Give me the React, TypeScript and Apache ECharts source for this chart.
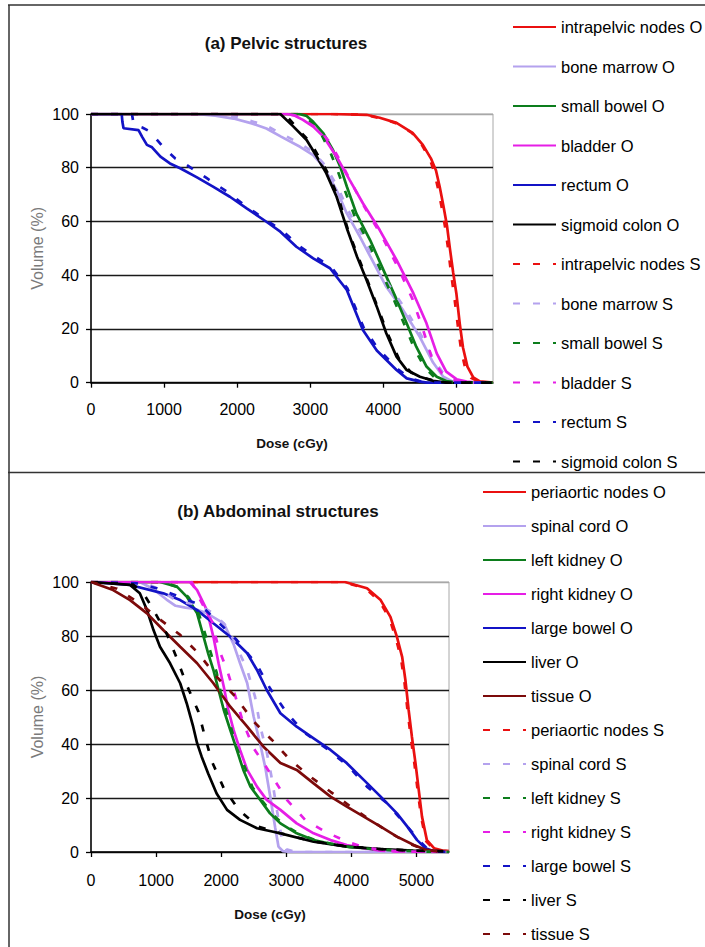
import React, { useEffect, useRef } from "react";
import * as echarts from "echarts";

type Pt = [number, number];

// ---------- axis ticks ----------
const doseTicks = [0, 1000, 2000, 3000, 4000, 5000];
const doseMax = 5500;
const volumeTicks = [0, 20, 40, 60, 80, 100];

// ---------- (a) Pelvic structures ----------
const intrapelvicNodesO: Pt[] = [[0,100],[3300,100],[3770,99.7],[3950,98.6],[4180,96.7],[4400,93],[4540,88.5],[4650,83.5],[4720,79],[4770,73],[4820,66],[4870,58.5],[4910,50],[4955,41],[5000,33],[5045,22],[5090,13],[5150,6],[5230,2],[5320,0.5],[5500,0]];
const boneMarrowO: Pt[] = [[0,100],[1430,100],[1700,99.4],[1950,98.3],[2200,96.5],[2400,94.6],[2600,91.6],[2860,87.8],[3040,84.7],[3180,80.4],[3360,71.7],[3500,63],[3680,54.3],[3820,47],[4040,35.7],[4270,27],[4500,17],[4680,7.5],[4820,2.2],[4950,0.4],[5100,0],[5500,0]];
const smallBowelO: Pt[] = [[0,100],[2850,100],[2950,99.3],[3040,97.1],[3180,92.8],[3310,86.6],[3410,80.4],[3500,73],[3630,63],[3820,53],[4000,42],[4180,31],[4320,22],[4450,13.4],[4590,6],[4730,2.2],[4860,0.6],[5000,0],[5500,0]];
const bladderO: Pt[] = [[0,100],[2680,100],[2770,99.6],[2900,97.8],[3040,95.3],[3180,91.6],[3360,84.1],[3540,75.4],[3720,66.8],[3950,56.8],[4180,45.7],[4410,33.3],[4590,22.1],[4730,10.9],[4860,4.1],[5000,1.3],[5140,0.4],[5300,0],[5500,0]];
const rectumO: Pt[] = [[0,100],[420,100],[430,97],[445,94.7],[650,94],[700,91.5],[765,88.5],[835,87.6],[950,84.1],[1080,81.6],[1220,79.8],[1450,76.4],[1675,72.9],[1900,69.2],[2130,64.9],[2400,59.9],[2590,56.2],[2810,50.6],[3040,46.3],[3270,42.6],[3500,34.5],[3720,19.6],[3910,12],[4180,4.7],[4320,1.6],[4500,0.4],[4600,0],[5500,0]];
const sigmoidColonO: Pt[] = [[0,100],[2590,100],[2770,95.3],[2950,90.3],[3090,84.1],[3220,77.9],[3360,69.2],[3500,57.5],[3640,46.9],[3770,38.2],[3910,28.3],[4040,18.4],[4180,9.7],[4320,4.7],[4500,2.2],[4680,0.7],[4860,0],[5500,0]];
const intrapelvicNodesS: Pt[] = [[0,100],[3300,100],[3750,99.7],[3950,98.5],[4170,96.6],[4390,93],[4530,88.3],[4640,83],[4700,78],[4750,72],[4800,65],[4850,57],[4890,49],[4930,40],[4975,31],[5020,21],[5065,12],[5120,5.5],[5200,1.8],[5300,0.4],[5500,0]];
const boneMarrowS: Pt[] = [[0,100],[1500,100],[1750,99.5],[2000,98.8],[2200,97.3],[2400,95.6],[2630,92.3],[2850,89.2],[3050,85.6],[3200,81],[3380,72.5],[3520,64],[3700,55.5],[3850,47.5],[4060,37],[4300,27.5],[4520,17.5],[4700,8],[4850,2.5],[5000,0.4],[5150,0],[5500,0]];
const smallBowelS: Pt[] = [[0,100],[2820,100],[2930,99],[3020,96.8],[3150,92.5],[3270,86],[3360,80],[3460,72.5],[3600,62.5],[3790,52.5],[3970,41.5],[4150,30.5],[4290,21.5],[4420,13],[4560,5.8],[4700,2],[4840,0.5],[5000,0],[5500,0]];
const bladderS: Pt[] = [[0,100],[2700,100],[2800,99.4],[2950,97.2],[3130,94],[3280,89],[3420,82],[3580,73.5],[3760,64.5],[3980,54.5],[4200,43],[4400,31],[4540,20],[4660,9.5],[4800,3.5],[4950,1],[5100,0.3],[5250,0],[5500,0]];
const rectumS: Pt[] = [[0,100],[560,100],[585,96],[700,95],[810,93.4],[900,90.5],[1015,86.9],[1150,83.5],[1310,81],[1450,78.5],[1585,76.1],[1860,71.1],[2130,65.5],[2430,59.9],[2620,56.5],[2840,51],[3070,46.8],[3290,43],[3510,35],[3730,20.5],[3930,12.5],[4200,5],[4350,1.8],[4520,0.4],[4650,0],[5500,0]];
const sigmoidColonS: Pt[] = [[0,100],[2650,100],[2860,93.5],[3000,89.5],[3130,83.5],[3260,77],[3390,68.5],[3520,56.5],[3660,46.5],[3790,37.5],[3930,27.5],[4070,17.5],[4220,8.5],[4380,3.8],[4550,1.8],[4730,0.5],[4900,0],[5500,0]];

// ---------- (b) Abdominal structures ----------
const periaorticNodesO: Pt[] = [[0,100],[3900,100],[4240,97.7],[4450,93.3],[4600,87.1],[4700,79.7],[4780,72.3],[4830,63.7],[4880,52.6],[4930,42.7],[4985,32.9],[5035,23],[5085,13.1],[5160,4.4],[5270,1.4],[5400,0.5],[5500,0.3]];
const spinalCordO: Pt[] = [[0,100],[750,100],[950,97.5],[1160,93.5],[1300,91.2],[1450,90.5],[1600,90],[1780,88.4],[2040,84.7],[2190,77],[2290,69.9],[2400,62.5],[2500,50],[2600,40],[2680,31],[2750,21],[2830,9],[2880,2],[2950,0.3],[3050,0],[5500,0]];
const leftKidneyO: Pt[] = [[0,100],[1060,100],[1320,98.3],[1470,94.6],[1630,88.4],[1730,79.7],[1800,73.6],[1880,67.4],[1960,60],[2040,52.6],[2140,45.2],[2240,37.8],[2340,30.4],[2450,24.2],[2600,19.3],[2750,14.3],[2910,10.6],[3160,6.9],[3420,4.4],[3680,3],[3930,2],[4190,1.4],[4450,0.9],[4700,0.5],[5000,0.2],[5500,0]];
const rightKidneyO: Pt[] = [[0,100],[1520,100],[1630,97],[1780,89.6],[1880,79.7],[1960,69.9],[2040,61.2],[2110,52.6],[2190,45.2],[2290,37.8],[2400,30.4],[2550,24.2],[2700,19.3],[2910,15.6],[3160,10.6],[3420,6.9],[3680,4.4],[3930,2.6],[4190,1.4],[4450,0.5],[4700,0.2],[5500,0]];
const largeBowelO: Pt[] = [[0,100],[600,98.9],[1110,95.8],[1370,93.3],[1630,89.6],[1880,84.7],[2140,79.7],[2400,73.6],[2550,67.4],[2700,60],[2910,51.4],[3160,46.4],[3420,42.1],[3680,37.8],[3930,32.9],[4190,26.7],[4450,20.5],[4700,14.3],[4860,9.4],[5010,4.4],[5140,1.4],[5270,0.3],[5500,0]];
const liverO: Pt[] = [[0,100],[600,98.9],[750,95.8],[860,89.6],[960,82.2],[1060,76],[1215,69.9],[1370,62.5],[1470,55.1],[1570,46.4],[1630,40.3],[1700,35.3],[1800,29.1],[1930,21.7],[2090,15.6],[2290,11.9],[2550,8.8],[2800,7.5],[2910,6.9],[3420,3.8],[3930,2],[4450,1.1],[4950,0.5],[5500,0.2]];
const tissueO: Pt[] = [[0,100],[340,97],[600,93.3],[860,88.4],[1110,82.2],[1370,76],[1630,69.9],[1880,62.5],[2140,53.8],[2400,46.4],[2650,39],[2910,33],[3160,30.4],[3420,25.4],[3680,20.5],[3930,16.8],[4190,13.1],[4450,9.4],[4700,5.7],[4960,2.6],[5120,1],[5270,0.3],[5500,0]];
const periaorticNodesS: Pt[] = [[0,100],[3880,100],[4220,97.6],[4430,93],[4580,86.8],[4680,79.5],[4760,72],[4815,63],[4865,52],[4915,42],[4970,32.5],[5020,22.5],[5075,12.5],[5150,4],[5260,1.2],[5400,0.4],[5500,0.2]];
const spinalCordS: Pt[] = [[0,100],[800,100],[1000,97.8],[1250,94],[1400,92.5],[1550,92],[1700,91],[1900,88],[2090,83.4],[2240,76],[2400,67.4],[2520,57.5],[2600,46.5],[2700,37],[2780,27],[2860,15],[2930,5],[3000,1],[3150,0],[5500,0]];
const leftKidneyS: Pt[] = [[0,100],[1100,100],[1350,98],[1500,94.3],[1660,88],[1770,79.5],[1850,73],[1930,66.5],[1990,59.4],[2080,52],[2170,44.5],[2220,39.6],[2370,31],[2480,24],[2630,19],[2790,14],[2950,10.3],[3200,6.7],[3460,4.3],[3720,2.9],[3970,1.9],[4230,1.3],[4500,0.8],[4750,0.5],[5050,0.2],[5500,0]];
const rightKidneyS: Pt[] = [[0,100],[1550,100],[1650,94.6],[1860,85.3],[1960,75.4],[2090,67.4],[2220,57.5],[2340,47.7],[2500,38.4],[2650,33],[2810,27],[3010,19.3],[3290,11.9],[3600,7.5],[3930,3.8],[4200,1.8],[4500,0.6],[4800,0.2],[5500,0]];
const largeBowelS: Pt[] = [[0,100],[700,99.5],[1010,97.7],[1290,95.2],[1680,91.5],[1960,85],[2240,78.5],[2550,69.3],[2750,60.6],[3010,51.4],[3290,44],[3650,37.8],[3960,31.6],[4240,24.2],[4550,18],[4860,9.4],[5050,4],[5170,1.2],[5300,0.2],[5500,0]];
const liverS: Pt[] = [[0,100],[650,99],[800,96],[930,90.9],[1160,81],[1320,71.7],[1470,61.9],[1650,52],[1750,42.7],[1860,33.4],[2040,23.6],[2270,15.6],[2570,9.4],[2900,7],[3400,4],[3900,2.2],[4400,1.2],[4900,0.6],[5500,0.2]];
const tissueS: Pt[] = [[0,100],[400,97.5],[750,92.1],[1040,86.5],[1370,80.4],[1650,73.6],[1930,64.9],[2220,57.5],[2500,48.3],[2780,41.5],[3060,34.1],[3370,27.9],[3680,22.3],[3990,16.8],[4290,11.9],[4600,7],[4900,3],[5100,1.1],[5280,0.3],[5500,0]];

const RED = "#ea1010";
const LAVENDER = "#b4a2ee";
const GREEN = "#0c7d1c";
const MAGENTA = "#e61ee6";
const BLUE = "#1313c6";
const BLACK = "#000000";
const MAROON = "#7c0a0a";

const pelvic = [
  { name: "intrapelvic nodes O", data: intrapelvicNodesO, color: RED, dashed: false },
  { name: "bone marrow O", data: boneMarrowO, color: LAVENDER, dashed: false },
  { name: "small bowel O", data: smallBowelO, color: GREEN, dashed: false },
  { name: "bladder O", data: bladderO, color: MAGENTA, dashed: false },
  { name: "rectum O", data: rectumO, color: BLUE, dashed: false },
  { name: "sigmoid colon O", data: sigmoidColonO, color: BLACK, dashed: false },
  { name: "intrapelvic nodes S", data: intrapelvicNodesS, color: RED, dashed: true },
  { name: "bone marrow S", data: boneMarrowS, color: LAVENDER, dashed: true },
  { name: "small bowel S", data: smallBowelS, color: GREEN, dashed: true },
  { name: "bladder S", data: bladderS, color: MAGENTA, dashed: true },
  { name: "rectum S", data: rectumS, color: BLUE, dashed: true },
  { name: "sigmoid colon S", data: sigmoidColonS, color: BLACK, dashed: true },
];

const abdominal = [
  { name: "periaortic nodes O", data: periaorticNodesO, color: RED, dashed: false },
  { name: "spinal cord O", data: spinalCordO, color: LAVENDER, dashed: false },
  { name: "left kidney O", data: leftKidneyO, color: GREEN, dashed: false },
  { name: "right kidney O", data: rightKidneyO, color: MAGENTA, dashed: false },
  { name: "large bowel O", data: largeBowelO, color: BLUE, dashed: false },
  { name: "liver O", data: liverO, color: BLACK, dashed: false },
  { name: "tissue O", data: tissueO, color: MAROON, dashed: false },
  { name: "periaortic nodes S", data: periaorticNodesS, color: RED, dashed: true },
  { name: "spinal cord S", data: spinalCordS, color: LAVENDER, dashed: true },
  { name: "left kidney S", data: leftKidneyS, color: GREEN, dashed: true },
  { name: "right kidney S", data: rightKidneyS, color: MAGENTA, dashed: true },
  { name: "large bowel S", data: largeBowelS, color: BLUE, dashed: true },
  { name: "liver S", data: liverS, color: BLACK, dashed: true },
  { name: "tissue S", data: tissueS, color: MAROON, dashed: true },
];

const SANS = "'Liberation Sans', Arial, sans-serif";

function xAxisFor(gridIndex: number, nameGap: number, labelMargin: number) {
  return {
    type: "value",
    gridIndex,
    min: 0,
    max: doseMax,
    interval: 1000,
    axisLine: { show: true, onZero: false, lineStyle: { color: "#000", width: 1.5 } },
    axisTick: { show: true, length: 5, customValues: doseTicks, lineStyle: { color: "#000", width: 1.3 } },
    axisLabel: {
      customValues: doseTicks,
      formatter: (v: number) => String(v),
      fontFamily: SANS,
      fontSize: 16,
      color: "#000",
      margin: labelMargin,
    },
    splitLine: { show: false },
    name: "Dose (cGy)",
    nameLocation: "middle",
    nameGap,
    nameMoveOverlap: false,
    nameTextStyle: { fontFamily: SANS, fontSize: 13.5, fontWeight: "bold", color: "#111" },
  };
}

function yAxisFor(gridIndex: number) {
  return {
    type: "value",
    gridIndex,
    min: volumeTicks[0],
    max: volumeTicks[volumeTicks.length - 1],
    interval: 20,
    axisLine: { show: true, lineStyle: { color: "#000", width: 1.5 } },
    axisTick: { show: true, length: 5, lineStyle: { color: "#000", width: 1.3 } },
    axisLabel: { formatter: (v: number) => String(v), fontFamily: SANS, fontSize: 16, color: "#000", margin: 12 },
    splitLine: {
      show: true,
      lineStyle: { color: ["#1a1a1a", "#1a1a1a", "#1a1a1a", "#1a1a1a", "#1a1a1a", "#a8a8a8"], width: 1.4 },
    },
    name: "Volume (%)",
    nameLocation: "middle",
    nameRotate: 90,
    nameGap: 46,
    nameMoveOverlap: false,
    nameTextStyle: { fontFamily: SANS, fontSize: 16, color: "#7a7a7a" },
  };
}

function buildSeries(list: typeof pelvic, idx: number) {
  return list.map((s) => ({
    type: "line",
    name: s.name,
    xAxisIndex: idx,
    yAxisIndex: idx,
    data: s.data,
    symbol: "none",
    showSymbol: false,
    smooth: false,
    color: s.color,
    lineStyle: { color: s.color, width: 2.7, type: s.dashed ? [7, 13] : "solid", cap: "butt" },
    emphasis: { disabled: true },
  }));
}

export default function App() {
  const ref = useRef<HTMLDivElement>(null);
  useEffect(() => {
    if (!ref.current) return;
    const chart = echarts.init(ref.current, undefined, { renderer: "svg" });
    const legendText = { fontFamily: SANS, fontSize: 16.5, lineHeight: 20, color: "#000" };
    chart.setOption({
      animation: false,
      backgroundColor: "#ffffff",
      title: [
        {
          text: "(a) Pelvic structures",
          left: 286,
          top: 35,
          textAlign: "center",
          padding: 0,
          textStyle: { fontFamily: SANS, fontSize: 17, fontWeight: "bold", color: "#111" },
        },
        {
          text: "(b) Abdominal structures",
          left: 278,
          top: 503,
          textAlign: "center",
          padding: 0,
          textStyle: { fontFamily: SANS, fontSize: 17, fontWeight: "bold", color: "#111" },
        },
      ],
      legend: [
        {
          data: pelvic.map((s) => s.name),
          orient: "vertical",
          left: 512,
          top: 17,
          padding: 0,
          itemWidth: 43,
          itemHeight: 14,
          itemGap: 19.5,
          selectedMode: false,
          itemStyle: { opacity: 0 },
          textStyle: legendText,
        },
        {
          data: abdominal.map((s) => s.name),
          orient: "vertical",
          left: 482,
          top: 482,
          padding: 0,
          itemWidth: 43,
          itemHeight: 14,
          itemGap: 14,
          selectedMode: false,
          itemStyle: { opacity: 0 },
          textStyle: legendText,
        },
      ],
      grid: [
        { left: 91, top: 114, width: 402, height: 268.7, show: true, borderColor: "#a8a8a8", borderWidth: 1, backgroundColor: "transparent" },
        { left: 91, top: 582, width: 358, height: 270, show: true, borderColor: "#a8a8a8", borderWidth: 1, backgroundColor: "transparent" },
      ],
      xAxis: [xAxisFor(0, 54, 19), xAxisFor(1, 55, 20)],
      yAxis: [yAxisFor(0), yAxisFor(1)],
      series: [...buildSeries(pelvic, 0), ...buildSeries(abdominal, 1)],
      graphic: [
        { type: "line", shape: { x1: 8, y1: 5, x2: 705, y2: 5 }, style: { stroke: "#333", lineWidth: 1.5 }, silent: true },
        { type: "line", shape: { x1: 9, y1: 5, x2: 9, y2: 947 }, style: { stroke: "#333", lineWidth: 1.5 }, silent: true },
        { type: "line", shape: { x1: 8, y1: 472.5, x2: 705, y2: 472.5 }, style: { stroke: "#333", lineWidth: 1.5 }, silent: true },
      ],
    });
    return () => chart.dispose();
  }, []);
  return <div ref={ref} style={{ position: "absolute", left: 0, top: 0, width: 705, height: 947 }} />;
}
